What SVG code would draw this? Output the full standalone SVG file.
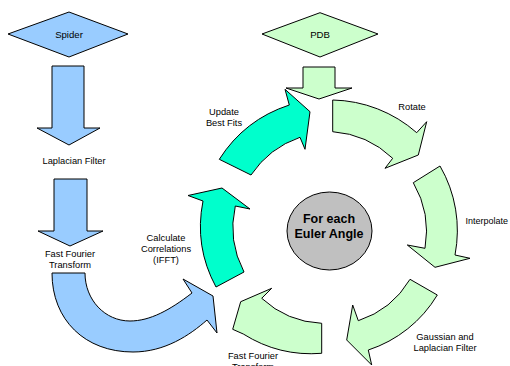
<svg xmlns="http://www.w3.org/2000/svg" width="510" height="366" viewBox="0 0 510 366">
<style>
.s{stroke:#000;stroke-width:1;stroke-linejoin:miter}
.b{fill:#99CCFF}
.g{fill:#CCFFCC}
.t{fill:#00FFCC}
.lbl{font-family:"Liberation Sans",Arial,sans-serif;font-size:9.3px;fill:#000;text-anchor:middle}
.big{font-family:"Liberation Sans",Arial,sans-serif;font-size:12.5px;font-weight:bold;fill:#000;text-anchor:middle}
</style>
<rect width="510" height="366" fill="#fff"/>
<g id="spider">
<polygon class="s b" points="8,34 69,12 128,34 69,57"/>
<text class="lbl" x="69" y="38" style="font-size:9.6px">Spider</text>
</g>
<g id="pdb">
<polygon class="s g" points="262,34 320,12.7 378,34 320,57"/>
<text class="lbl" x="320" y="38" style="font-size:9.6px">PDB</text>
</g>
<g id="center">
<ellipse class="s" cx="329.5" cy="231" rx="42.5" ry="39" fill="#C0C0C0"/>
<text class="big" x="329" y="223">For each</text>
<text class="big" x="329" y="238">Euler Angle</text>
</g>
<g id="connectors">
<path id="a-spider" class="s b" d="M52,66 H84 V128 H100 L69,145 L37,128 H52 Z"/>
<path id="a-lap" class="s b" d="M54,179 H87 V231 H103 L70,246 L38,231 H54 Z"/>
<path id="a-fft" class="s b" d="M52,273 C52,320 85,352 133,352 C165,352 190,335 207,320 L217,333 L213,296 L183,279 L192,293 C170,310 150,321 130,321 C105,321 85,300 85,273 Z"/>
<path id="a-pdb" class="s g" d="M303,67 H335 V88 H352 L319,99 L286,88 H303 Z"/>
<path id="a-rotate" class="s g" d="M332.7,100 A131 131 0 0 1 416.7,132.7 L426.7,121.7 L418.3,155 L385,168.3 L392.7,158.3 A97 97 0 0 0 332.7,131.7 Z"/>
<path id="a-interp" class="s g" d="M440,166 A128.5 128.5 0 0 1 455,255 L470,258.3 L435,267.3 L407.3,245 L425,248.3 A97 97 0 0 0 413.3,182.7 Z"/>
<path id="a-gauss" class="s g" d="M437.3,295 A126 126 0 0 1 368.3,350 L371.7,365 L346.7,340 L352.7,305 L358.3,320.7 A94 94 0 0 0 410,279.3 Z"/>
<path id="a-fft2" class="s g" d="M321.7,353.3 A128 128 0 0 1 243.3,334 L232.7,329.3 L240.7,301.7 L271.7,288.3 L261.7,298.3 A94 94 0 0 0 321.7,323.3 Z"/>
<path id="a-corr" class="s t" d="M216,287 A128 128 0 0 1 203,201 L188,195.5 L222,188 L250,209 L235.3,206 A96 96 0 0 0 244,272 Z"/>
<path id="a-update" class="s t" d="M219.3,159.3 A131 131 0 0 1 289.3,105 L285,89.3 L310,111.7 L305,149.3 L300,137.3 A97 97 0 0 0 251,175 Z"/>
</g>
<g id="labels">
<text class="lbl" x="74" y="164">Laplacian Filter</text>
<text class="lbl" x="70" y="257">Fast Fourier</text>
<text class="lbl" x="70" y="268">Transform</text>
<text class="lbl" x="166" y="241">Calculate</text>
<text class="lbl" x="166" y="252">Correlations</text>
<text class="lbl" x="166" y="263">(IFFT)</text>
<text class="lbl" x="224" y="114.5">Update</text>
<text class="lbl" x="224" y="126">Best Fits</text>
<text class="lbl" x="412" y="110">Rotate</text>
<text class="lbl" x="508" y="223.5" style="text-anchor:end;font-size:9px">Interpolate</text>
<text class="lbl" x="445" y="339.5">Gaussian and</text>
<text class="lbl" x="445" y="351">Laplacian Filter</text>
<text class="lbl" x="253" y="359">Fast Fourier</text>
<text class="lbl" x="253" y="370">Transform</text>
</g>
</svg>
